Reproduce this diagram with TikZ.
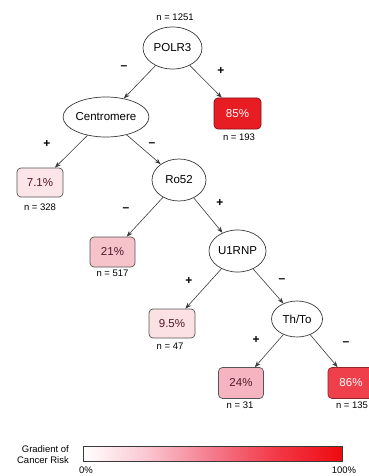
\documentclass[tikz,border=0pt]{standalone}
\usepackage{fontspec}
\setmainfont{Liberation Sans}
\usetikzlibrary{shapes.geometric,arrows.meta}

\definecolor{edgegray}{HTML}{3A3A3A}
\definecolor{boxgray}{HTML}{555555}
\definecolor{leaftext}{HTML}{521A2A}
\definecolor{riskA}{HTML}{FCE5E8}
\definecolor{riskB}{HTML}{FBE0E4}
\definecolor{riskC}{HTML}{F6C3CB}
\definecolor{riskD}{HTML}{F5B4C0}
\definecolor{riskE}{HTML}{EE3F4A}
\definecolor{riskF}{HTML}{E81D24}
\definecolor{barmidA}{HTML}{FAC8D2}
\definecolor{barmidB}{HTML}{F47A8C}
\definecolor{barmidC}{HTML}{F23A48}
\definecolor{barend}{HTML}{EE0A10}

% risk gradient used in the legend bar (25bp..75bp maps onto the path)
\pgfdeclarehorizontalshading{riskbar}{100bp}{%
  color(0bp)=(white); color(25bp)=(white); color(37bp)=(barmidA);
  color(50bp)=(barmidB); color(62bp)=(barmidC); color(75bp)=(barend);
  color(100bp)=(barend)}

\begin{document}
\begin{tikzpicture}[x=1pt,y=-1pt,
  test/.style={ellipse, draw=edgegray, line width=0.7pt, fill=white,
    inner sep=0pt, font=\fontsize{11.5}{13}\selectfont},
  leaf/.style={rectangle, rounded corners=4pt, draw=boxgray, line width=0.7pt,
    minimum width=46pt, minimum height=30pt, inner sep=0pt,
    text=leaftext, font=\fontsize{11.5}{13}\selectfont},
  hotleaf/.style={leaf, text=white},
  count/.style={font=\fontsize{9.5}{11}\selectfont},
  sign/.style={font=\bfseries\fontsize{12}{13}\selectfont},
  branch/.style={draw=edgegray, line width=0.6pt,
    -{Stealth[length=6pt,width=4.5pt]}},
  legend/.style={font=\fontsize{9.5}{11}\selectfont, align=right},
  tick/.style={font=\fontsize{9.5}{11}\selectfont}]

\useasboundingbox (0,0) rectangle (368,476);

% decision nodes
\node[test, minimum width=59pt, minimum height=42pt] (polr3) at (172.5,48) {POLR3};
\node[test, minimum width=72pt, minimum height=40pt] (centro) at (106,117) {Centromere};
\node[test, minimum width=54pt, minimum height=42pt] (ro52) at (179,180) {Ro52};
\node[test, minimum width=57pt, minimum height=42pt] (u1rnp) at (237.5,251) {U1RNP};
\node[test, minimum width=51pt, minimum height=36pt] (thto) at (297,319) {Th/To};

% outcome leaves
\node[hotleaf, fill=riskF, draw=riskF!55!black, minimum width=47pt, minimum height=31pt] (l85) at (237.5,113.5) {85\%};
\node[leaf, fill=riskA, minimum height=29pt] (l71) at (40,182.5) {7.1\%};
\node[leaf, fill=riskC, minimum width=45pt] (l21) at (112.5,252) {21\%};
\node[leaf, fill=riskB, minimum height=29pt] (l95) at (172,323.5) {9.5\%};
\node[leaf, fill=riskD, minimum width=45pt, minimum height=31pt] (l24) at (241,383) {24\%};
\node[hotleaf, fill=riskE, draw=riskE!60!black, minimum height=31pt] (l86) at (351,383) {86\%};

% sample sizes
\node[count] (n1251) at (175,17) {n = 1251};
\node[count] (n193) at (239,137) {n = 193};
\node[count] (n328) at (40,207) {n = 328};
\node[count] (n517) at (112.5,273) {n = 517};
\node[count] (n47) at (170,346) {n = 47};
\node[count] (n31) at (240,405) {n = 31};
\node[count] (n135) at (352,405) {n = 135};

% branches
\draw[branch] (polr3) -- (centro);
\draw[branch] (polr3) -- (l85);
\draw[branch] (centro) -- (l71);
\draw[branch] (centro) -- (ro52);
\draw[branch] (ro52) -- (l21);
\draw[branch] (ro52) -- (u1rnp);
\draw[branch] (u1rnp) -- (l95);
\draw[branch] (u1rnp) -- (thto);
\draw[branch] (thto) -- (l24);
\draw[branch] (thto) -- (l86);

% branch signs
\node[sign] (s1) at (124,68) {–};
\node[sign] (s2) at (221,71) {+};
\node[sign] (s3) at (47,144) {+};
\node[sign] (s4) at (152,145) {–};
\node[sign] (s5) at (126,210) {–};
\node[sign] (s6) at (220,203) {+};
\node[sign] (s7) at (189,281) {+};
\node[sign] (s8) at (282,281) {–};
\node[sign] (s9) at (256,340) {+};
\node[sign] (s10) at (346,344) {–};

% legend
\node[legend] (legtitle) at (43,455) {Gradient of\\Cancer Risk};
\shade[shading=riskbar, draw=edgegray, line width=0.7pt]
  (83,446) rectangle (342,461);
\node[tick] (t0) at (86,470.5) {0\%};
\node[tick] (t100) at (344,470.5) {100\%};

\end{tikzpicture}
\end{document}
